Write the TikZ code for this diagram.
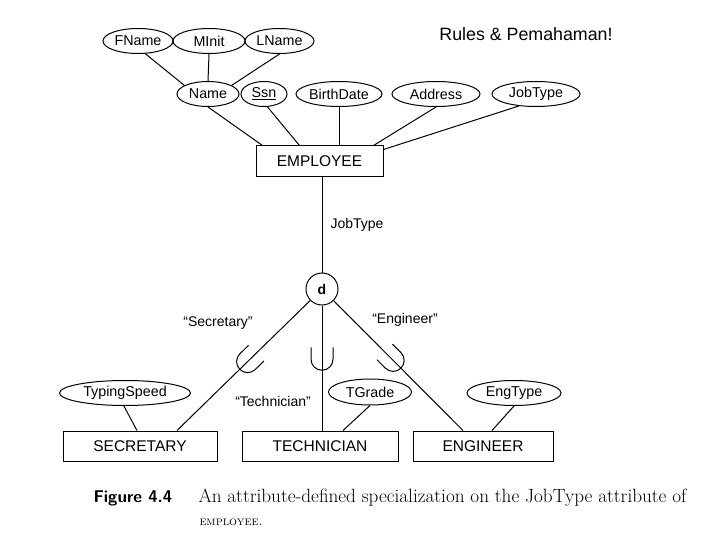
\documentclass[tikz,border=0pt]{standalone}
\usepackage{fontspec}
\usetikzlibrary{shapes.geometric}
\newfontfamily\diagfont{Liberation Sans}

\begin{document}
\begin{tikzpicture}[x=1pt, y=1pt, line width=1pt,
    attr/.style={ellipse, draw, inner sep=0pt, minimum height=25, font=\diagfont\fontsize{14.3}{16}\selectfont},
    entity/.style={rectangle, draw, inner sep=0pt, minimum height=31, font=\diagfont\fontsize{15.5}{18}\selectfont},
    lbl/.style={inner sep=0pt, font=\diagfont\fontsize{14}{16}\selectfont}]
    \newcommand{\cupmark}[2]{\draw[shift={(#1)}, rotate=#2] (-11,12) -- (-11,0) arc (180:360:11) -- (11,12);}
\useasboundingbox (0,0) rectangle (720,-540);
\node[lbl, font=\diagfont\fontsize{17.8}{20}\selectfont] (rules) at (526,-34){Rules \& Pemahaman!};
\node[attr, minimum width=70] (fname) at (138,-41){FName};
\node[attr, minimum width=72] (minit) at (209,-41){MInit};
\node[attr, minimum width=69] (lname) at (279.5,-41){LName};
\node[attr, minimum width=62] (name) at (208,-94){Name};
\node[attr, minimum width=46] (ssn) at (264,-94){\underline{Ssn}};
\node[attr, minimum width=86] (birth) at (339,-94){BirthDate};
\node[attr, minimum width=88] (address) at (436,-94){Address};
\node[attr, minimum width=88] (jobtype) at (536,-94){JobType};
\node[entity, minimum width=127] (employee) at (319.5,-161.5){EMPLOYEE};
\node[lbl] (jtlabel) at (357,-225){JobType};
\node[circle, draw, inner sep=0pt, minimum size=32, font=\diagfont\bfseries\fontsize{14}{16}\selectfont] (d) at (322,-289){d};
\node[lbl] (seclabel) at (218,-323){“Secretary”};
\node[lbl] (englabel) at (405,-320){“Engineer”};
\node[lbl] (techlabel) at (273,-401){“Technician”};
\node[attr, minimum width=131] (typing) at (125,-393){TypingSpeed};
\node[attr, minimum width=83, minimum height=26] (tgrade) at (370,-392){TGrade};
\node[attr, minimum width=94] (engtype) at (514,-393){EngType};
\node[entity, minimum width=154, minimum height=30] (secretary) at (140,-446){SECRETARY};
\node[entity, minimum width=156, minimum height=30] (technician) at (320,-446){TECHNICIAN};
\node[entity, minimum width=140, minimum height=30] (engineer) at (483,-446){ENGINEER};
\node[anchor=base west, inner sep=0pt, font=\sffamily\bfseries\fontsize{17}{20}\selectfont] (fig) at (93,-502){Figure 4.4};
\node[anchor=base west, inner sep=0pt, font=\fontsize{19.2}{22}\selectfont] (caption) at (198,-502){An attribute-defined specialization on the JobType attribute of};
\node[anchor=base west, inner sep=0pt, font=\fontsize{12.5}{15}\selectfont] (caption2) at (199,-525){\textsc{employee.}};
\draw(fname.-60) -- (name.160);
\draw(minit.south) -- (name.north);
\draw(lname.south) -- (name.20);
\draw(name.south) -- ([xshift=7pt]employee.north west);
\draw(ssn.-75) -- ([xshift=44pt]employee.north west);
\draw(birth.south) -- (birth.south |- employee.north);
\draw(address.south) -- ([xshift=-10pt]employee.north east);
\draw(jobtype.-145) -- ([yshift=-4pt]employee.north east);
\draw(d.north |- employee.south) -- (d);
\draw(d) -- coordinate[pos=0.47] (usec) ([xshift=37pt]secretary.north);
\draw(d) -- coordinate[pos=0.43] (utech) (d |- technician.north);
\draw(d) -- coordinate[pos=0.46] (ueng) ([xshift=-20pt]engineer.north);
\draw(typing.-95) -- ([xshift=-3pt]secretary.north);
\draw(tgrade.south) -- ([xshift=23pt]technician.north);
\draw(engtype.south) -- ([xshift=9pt]engineer.north);
\cupmark{usec}{-45.6}
\cupmark{utech}{0}
\cupmark{ueng}{44.8}
\end{tikzpicture}
\end{document}
